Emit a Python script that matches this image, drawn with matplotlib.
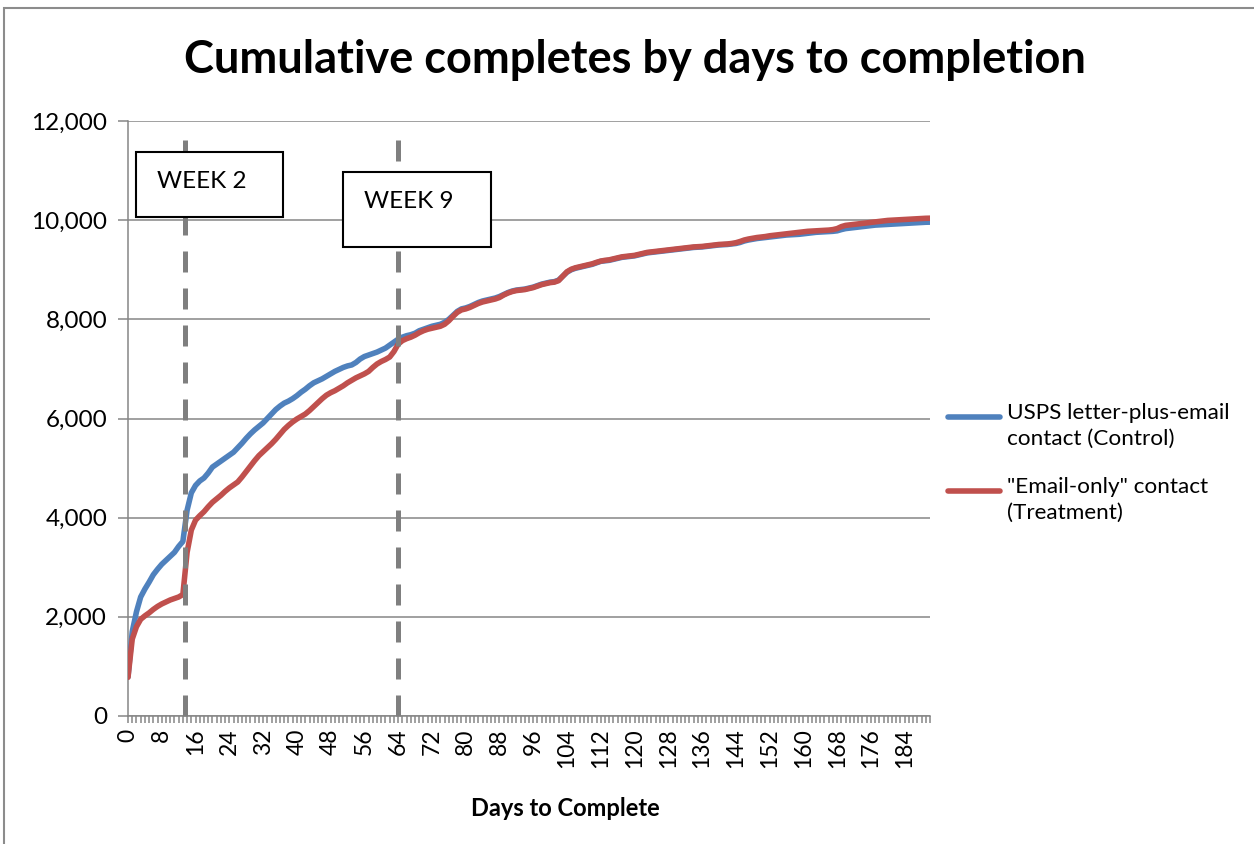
import matplotlib

matplotlib.use("Agg")

import matplotlib.pyplot as plt
from matplotlib.lines import Line2D
from matplotlib.patches import Rectangle
from matplotlib.ticker import FuncFormatter, MultipleLocator

plt.rcParams['font.family'] = ['Lato', 'DejaVu Sans']

# cumulative completes, one value per day (0..190)
control = [
    790, 1700, 2100, 2400, 2560, 2700, 2850, 2960, 3060, 3140,
    3220, 3300, 3420, 3520, 4150, 4500, 4650, 4740, 4800, 4900,
    5020, 5080, 5140, 5200, 5260, 5320, 5410, 5500, 5600, 5690,
    5770, 5840, 5910, 6000, 6090, 6180, 6250, 6310, 6350, 6400,
    6460, 6530, 6590, 6660, 6720, 6760, 6800, 6850, 6900, 6950,
    6990, 7030, 7060, 7080, 7130, 7200, 7250, 7280, 7310, 7340,
    7380, 7420, 7480, 7540, 7600, 7640, 7670, 7690, 7720, 7770,
    7800, 7830, 7860, 7880, 7900, 7940, 8000, 8080, 8160, 8210,
    8230, 8260, 8300, 8340, 8370, 8390, 8410, 8430, 8460, 8500,
    8540, 8570, 8590, 8600, 8610, 8630, 8650, 8680, 8710, 8730,
    8750, 8760, 8790, 8870, 8950, 9000, 9030, 9050, 9070, 9090,
    9110, 9140, 9170, 9180, 9190, 9210, 9230, 9250, 9260, 9270,
    9280, 9300, 9320, 9340, 9350, 9360, 9370, 9380, 9390, 9400,
    9410, 9420, 9430, 9440, 9450, 9455, 9460, 9470, 9480, 9490,
    9500, 9505, 9510, 9520, 9530, 9550, 9580, 9600, 9615, 9630,
    9640, 9650, 9660, 9670, 9680, 9690, 9700, 9705, 9710, 9715,
    9725, 9735, 9745, 9755, 9760, 9765, 9770, 9775, 9785, 9810,
    9830, 9840, 9850, 9860, 9870, 9880, 9890, 9900, 9905, 9910,
    9915, 9920, 9925, 9930, 9935, 9940, 9945, 9950, 9955, 9958,
    9960,
]
treatment = [
    780, 1550, 1800, 1950, 2020, 2080, 2150, 2210, 2260, 2300,
    2340, 2370, 2400, 2450, 3300, 3750, 3950, 4040, 4120, 4220,
    4310, 4380, 4450, 4530, 4600, 4660, 4720, 4820, 4930, 5040,
    5150, 5250, 5330, 5410, 5490, 5580, 5680, 5780, 5860, 5930,
    5990, 6040, 6090, 6160, 6240, 6320, 6400, 6470, 6520, 6560,
    6610, 6660, 6720, 6770, 6820, 6860, 6900, 6950, 7030, 7100,
    7150, 7190, 7240, 7350, 7500, 7570, 7610, 7640, 7680, 7730,
    7770, 7800, 7820, 7840, 7860, 7900, 7970, 8060, 8140, 8190,
    8210, 8240, 8280, 8320, 8350, 8370, 8390, 8410, 8440, 8490,
    8530, 8560, 8580, 8590, 8600, 8620, 8640, 8670, 8700, 8720,
    8740, 8750, 8780, 8870, 8960, 9010, 9040, 9060, 9080, 9100,
    9120, 9150, 9175, 9190, 9200, 9220, 9240, 9260, 9270, 9280,
    9290, 9310, 9330, 9350, 9360, 9370, 9380, 9390, 9400, 9410,
    9420, 9430, 9440, 9450, 9460, 9465, 9470, 9480, 9490, 9500,
    9510, 9515, 9520, 9530, 9545, 9570, 9600, 9620, 9635, 9650,
    9660, 9670, 9685, 9695, 9705, 9715, 9725, 9735, 9745, 9755,
    9765, 9775, 9780, 9785, 9790, 9795, 9800, 9810, 9830, 9870,
    9895, 9905, 9915, 9925, 9935, 9945, 9955, 9965, 9975, 9985,
    9995, 10000, 10005, 10010, 10015, 10020, 10025, 10030, 10035, 10038,
    10040,
]
days = list(range(len(control)))

series_labels = ['USPS letter-plus-email\ncontact (Control)',
                 '"Email-only" contact\n(Treatment)']
series_colors = ['#4F81BD', '#C0504D']

week_days = [13.5, 64]
week_labels = ['WEEK 2', 'WEEK 9']

W, H = 1254, 844
fig = plt.figure(figsize=(W / 100, H / 100), dpi=100)
ax = fig.add_axes([128 / W, 1 - 716 / H, (930 - 128) / W, (716 - 121) / H])

grey = '#868686'

ax.plot(days, control, color=series_colors[0], linewidth=4, solid_capstyle='round', zorder=3)
ax.plot(days, treatment, color=series_colors[1], linewidth=4, solid_capstyle='round', zorder=4)

# week markers
for d in week_days:
    ax.plot([d, d], [11620, -90], color='#7F7F7F', linewidth=3.6,
            dashes=(4.2, 3.2), clip_on=False, zorder=5)

ax.set_xlim(0, len(days) - 1)
ax.set_ylim(0, 12000)
ax.yaxis.set_major_locator(MultipleLocator(2000))
ax.yaxis.set_major_formatter(FuncFormatter(lambda v, p: f'{int(v):,}'))
ax.xaxis.set_major_locator(MultipleLocator(8))
ax.xaxis.set_minor_locator(MultipleLocator(1))
ax.grid(axis='y', color=grey, linewidth=1.1, zorder=0)
ax.set_axisbelow(True)

for s in ['top', 'right']:
    ax.spines[s].set_visible(False)
for s in ['left', 'bottom']:
    ax.spines[s].set_color(grey)
    ax.spines[s].set_linewidth(1.1)

ax.tick_params(axis='y', which='major', direction='out', length=7, width=1.1,
               color=grey, labelsize=17.5, pad=8)
ax.tick_params(axis='x', which='both', direction='out', length=5, width=1.1,
               color=grey, labelsize=16.5, pad=4)
plt.setp(ax.get_xticklabels(), rotation=90)

ax.set_xlabel('Days to Complete', fontsize=17, fontweight='bold')
ax.xaxis.set_label_coords((565 - 128) / 802, (716 - 808) / 595)
ax.xaxis.label.set_va('center')

fig.text(635 / W, 1 - 60 / H, 'Cumulative completes by days to completion',
         ha='center', va='center', fontsize=32.5, fontweight='bold')

# text boxes for the week markers
boxes = [(136, 152, 147, 65), (343, 172, 148, 75)]
for (bx, by, bw, bh), lab in zip(boxes, week_labels):
    fig.add_artist(Rectangle((bx / W, 1 - (by + bh) / H), bw / W, bh / H,
                             transform=fig.transFigure, facecolor='white',
                             edgecolor='black', linewidth=1.5, zorder=6))
    fig.text((bx + 21) / W, 1 - (by + 29) / H, lab, ha='left', va='center',
             fontsize=17.5, zorder=7)

# legend drawn on the right, handle next to first text line
leg_y = [417, 491]
for y, lab, col in zip(leg_y, series_labels, series_colors):
    fig.add_artist(Line2D([948 / W, 1000 / W], [1 - y / H, 1 - y / H],
                          transform=fig.transFigure, color=col, linewidth=4,
                          solid_capstyle='round'))
    fig.text(1007 / W, 1 - (y - 14) / H, lab, ha='left', va='top',
             fontsize=16.2, linespacing=1.35)

# chart area border
fig.add_artist(Rectangle((4 / W, -0.1), 1.2, 1.1 - 8 / H, transform=fig.transFigure,
                         fill=False, edgecolor='#8C8C8C', linewidth=1.5))

fig.savefig('out.png', dpi=100)
